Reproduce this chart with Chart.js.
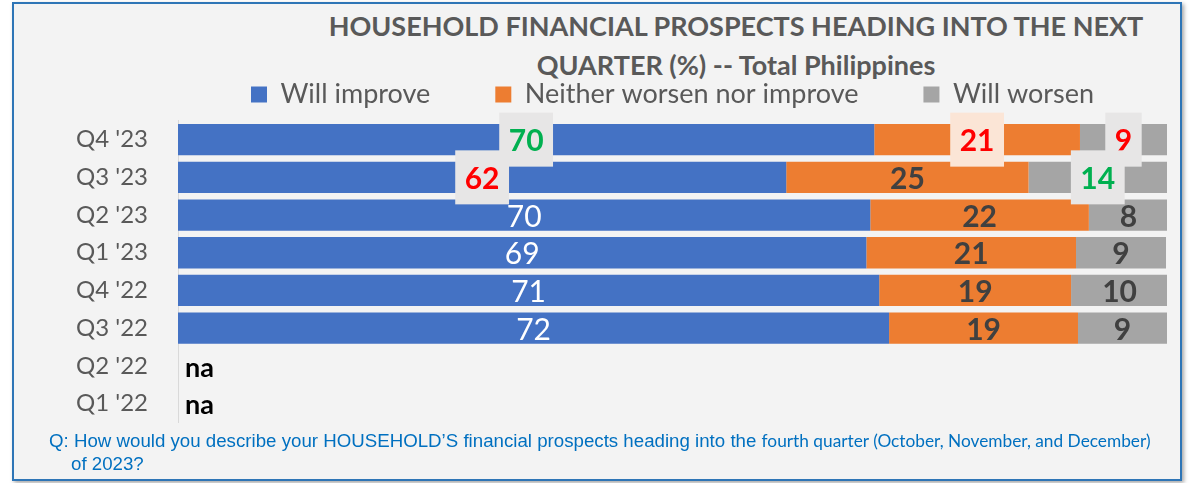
<!DOCTYPE html>
<html>
<head>
<meta charset="utf-8">
<script src="https://cdn.jsdelivr.net/npm/chart.js@4.4.0/dist/chart.umd.min.js"></script>
<style>
  html, body { margin: 0; padding: 0; background: #ffffff; }
  #wrap { position: relative; width: 1191px; height: 483px; overflow: hidden; }
  #frame {
    position: absolute; left: 12px; top: 2px; width: 1166px; height: 475px;
    border: 2px solid #2e75b6; background: #f3f3f3;
    box-shadow: 2px 2px 4px rgba(0, 0, 0, 0.35);
  }
  #chart { position: absolute; left: 0; top: 0; }
  #title {
    position: absolute; left: 236px; width: 1000px; top: 7px;
    text-align: center; white-space: nowrap;
    font: bold 27px Lato; line-height: 38.5px; color: #595959;
  }
  #note {
    position: absolute; left: 49px; top: 429px; width: 1120px;
    padding-left: 22px; text-indent: -22px; white-space: nowrap;
    font: 18.7px "Liberation Sans", Arial, sans-serif; line-height: 23px; color: #0070c0;
  }
  #note .cal { font-family: Lato, sans-serif; font-size: 17.3px; }
</style>
</head>
<body>
<div id="wrap">
  <div id="frame"></div>
  <div id="title">HOUSEHOLD FINANCIAL PROSPECTS HEADING INTO THE NEXT<br>QUARTER (%) -- Total Philippines</div>
  <canvas id="chart" width="1191" height="483"></canvas>
  <div id="note">Q: How would you describe your HOUSEHOLD’S financial prospects heading into the <span class="cal">fourth quarter (October, November, and December)</span><br>of 2023?</div>
</div>
<script>
// ---- data ----
const categories = ["Q4 '23", "Q3 '23", "Q2 '23", "Q1 '23", "Q4 '22", "Q3 '22", "Q2 '22", "Q1 '22"];
const seriesNames = ["Will improve", "Neither worsen nor improve", "Will worsen"];

// bar lengths
const improve = [70.4, 61.5, 70.0, 69.6, 70.9, 71.9, null, null];
const neither = [20.8, 24.5, 22.1, 21.2, 19.4, 19.1, null, null];
const worsen  = [8.8, 14.0, 8.0, 9.1, 9.8, 9.0, null, null];

// printed numbers
const improveLabels = [70, 62, 70, 69, 71, 72, null, null];
const neitherLabels = [21, 25, 22, 21, 19, 19, null, null];
const worsenLabels  = [9, 14, 8, 9, 10, 9, null, null];
const missingLabel = "na";

// ---- styles ----
const colors = ["#4472c4", "#ed7d31", "#a5a5a5"];
const labelSets = [improveLabels, neitherLabels, worsenLabels];
const callouts = {
  "Q4 '23": [{ color: "#00b050", bg: "#e7e6e6" }, { color: "#ff0000", bg: "#fbe5d6" }, { color: "#ff0000", bg: "#e7e6e6" }],
  "Q3 '23": [{ color: "#ff0000", bg: "#e7e6e6" }, null, { color: "#00b050", bg: "#e7e6e6" }]
};

// numbers on the bars + boxed callouts + "na"
const barLabels = {
  id: "barLabels",
  afterDatasetsDraw(chart) {
    const { ctx, scales: { x, y } } = chart;
    ctx.save();
    ctx.textBaseline = "middle";
    categories.forEach((cat, j) => {
      if (improve[j] == null) {
        ctx.font = "bold 27px Lato";
        ctx.fillStyle = "#000";
        ctx.textAlign = "left";
        ctx.fillText(missingLabel, x.getPixelForValue(0) + 7, y.getPixelForValue(j) + 2);
        return;
      }
      ctx.textAlign = "center";
      labelSets.forEach((labels, i) => {
        const bar = chart.getDatasetMeta(i).data[j];
        const { x: cx, y: cy } = bar.getCenterPoint();
        const txt = String(labels[j]);
        const c = (callouts[cat] || [])[i];
        if (c) {
          ctx.font = "bold 30px Lato";
          const w = ctx.measureText(txt).width + 19;
          ctx.fillStyle = c.bg;
          ctx.fillRect(cx - w / 2, cy - 27, w, 54);
          ctx.fillStyle = c.color;
        } else if (i === 0) {
          ctx.font = "30px Lato";
          ctx.fillStyle = "#ffffff";
        } else {
          ctx.font = "bold 30px Lato";
          ctx.fillStyle = "#404040";
        }
        ctx.fillText(txt, cx, cy + 2);
      });
    });
    ctx.restore();
  }
};

new Chart(document.getElementById("chart"), {
  type: "bar",
  data: {
    labels: categories,
    datasets: [improve, neither, worsen].map((d, i) => ({
      label: seriesNames[i],
      data: d,
      backgroundColor: colors[i],
      borderWidth: 0,
      barPercentage: 0.83,
      categoryPercentage: 1
    }))
  },
  options: {
    indexAxis: "y",
    responsive: false,
    animation: false,
    devicePixelRatio: 1,
    layout: { padding: { top: 16, right: 24, bottom: 60.6, left: 0 } },
    scales: {
      x: {
        stacked: true, min: 0, max: 100, position: "top",
        ticks: { display: false },
        grid: { display: false, drawTicks: false },
        border: { display: false },
        afterFit: (s) => { s.height = 2.8; }
      },
      y: {
        stacked: true,
        grid: { display: false, drawTicks: false },
        border: { display: true, color: "#d9d9d9", width: 1 },
        ticks: { color: "#595959", font: { family: "Lato", size: 24 }, padding: 30, autoSkip: false },
        afterFit: (s) => { s.width = 178; }
      }
    },
    plugins: {
      legend: {
        position: "top", fullSize: false, align: "center",
        labels: {
          boxWidth: 16, boxHeight: 16, padding: 65,
          color: "#595959", font: { family: "Lato", size: 27 }
        }
      },
      tooltip: { enabled: false }
    }
  },
  plugins: [barLabels]
});
</script>
</body>
</html>
